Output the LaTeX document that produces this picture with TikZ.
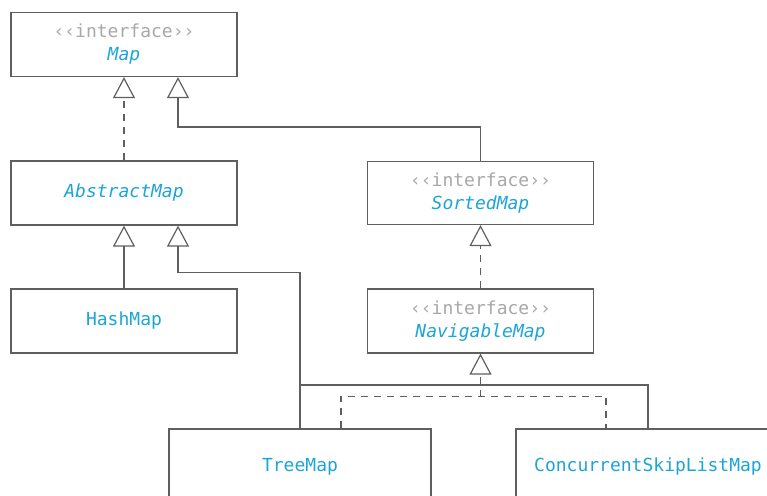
\documentclass[tikz,border=0pt]{standalone}
\usepackage{fontspec}
\setmonofont{DejaVu Sans Mono}
\usepackage{xcolor}
\usepackage{tikz}
\usetikzlibrary{arrows.meta,positioning,calc}
\definecolor{bleu}{RGB}{28,165,215}
\definecolor{grisclair}{RGB}{168,168,168}
\definecolor{gristrait}{RGB}{95,95,95}
\newcommand{\Stereotype}{{\color{grisclair}‹‹interface››}}

\begin{document}
\begin{tikzpicture}[x=1pt,y=-1pt]
\tikzstyle{boite}=[draw=gristrait,line width=1.2pt,fill=white,minimum width=226pt,minimum height=64pt,inner sep=0pt,align=center,text=bleu,font=\ttfamily\fontsize{18}{23}\selectfont]
\tikzstyle{lien}=[draw=gristrait,line width=1.2pt]
\tikzstyle{pointille}=[lien,dash pattern=on 7pt off 6pt]
\tikzstyle{herite}=[lien,-{Triangle[open,length=21pt,width=22pt]}]
\tikzstyle{realise}=[pointille,-{Triangle[open,length=21pt,width=22pt]}]
\def\ColA{124}
\def\ColB{480.5}
\def\NiveauA{44.5}
\def\NiveauB{193}
\def\NiveauC{321}
\def\NiveauD{467}
\clip (0,0) rectangle (767,495);
\node[boite] (Map) at (\ColA,\NiveauA) {\Stereotype\\\textit{Map}};
\node[boite] (AbstractMap) at (\ColA,\NiveauB) {\textit{AbstractMap}};
\node[boite] (HashMap) at (\ColA,\NiveauC) {HashMap};
\node[boite,minimum height=63pt] (SortedMap) at (\ColB,\NiveauB) {\Stereotype\\\textit{SortedMap}};
\node[boite] (NavigableMap) at (\ColB,\NiveauC) {\Stereotype\\\textit{NavigableMap}};
\node[boite,minimum width=262pt,minimum height=76pt] (TreeMap) at (300,\NiveauD) {TreeMap};
\node[boite,minimum width=264pt,minimum height=76pt] (CSLM) at (648,\NiveauD) {ConcurrentSkipListMap};
\coordinate (pointeM) at ([xshift=54pt]Map.south);
\coordinate (pointeA) at ([xshift=54pt]AbstractMap.south);
\coordinate (jonction) at (TreeMap.north |- 0,385);
\coordinate (jonctionP) at (\ColB,397);
\draw[realise] (AbstractMap) -- (Map);
\draw[herite] (SortedMap.north) -- ++(0,-34) -| (pointeM);
\draw[herite] (HashMap) -- (AbstractMap);
\draw[herite] (TreeMap.north) -- ++(0,-156) -| (pointeA);
\draw[lien] (CSLM.north) |- (jonction);
\draw[realise] (NavigableMap) -- (SortedMap);
\draw[pointille] ([xshift=41pt]TreeMap.north) -- ++(0,-32) -| ([xshift=-42pt]CSLM.north);
\draw[realise] (jonctionP) -- (NavigableMap.south);
\end{tikzpicture}
\end{document}
